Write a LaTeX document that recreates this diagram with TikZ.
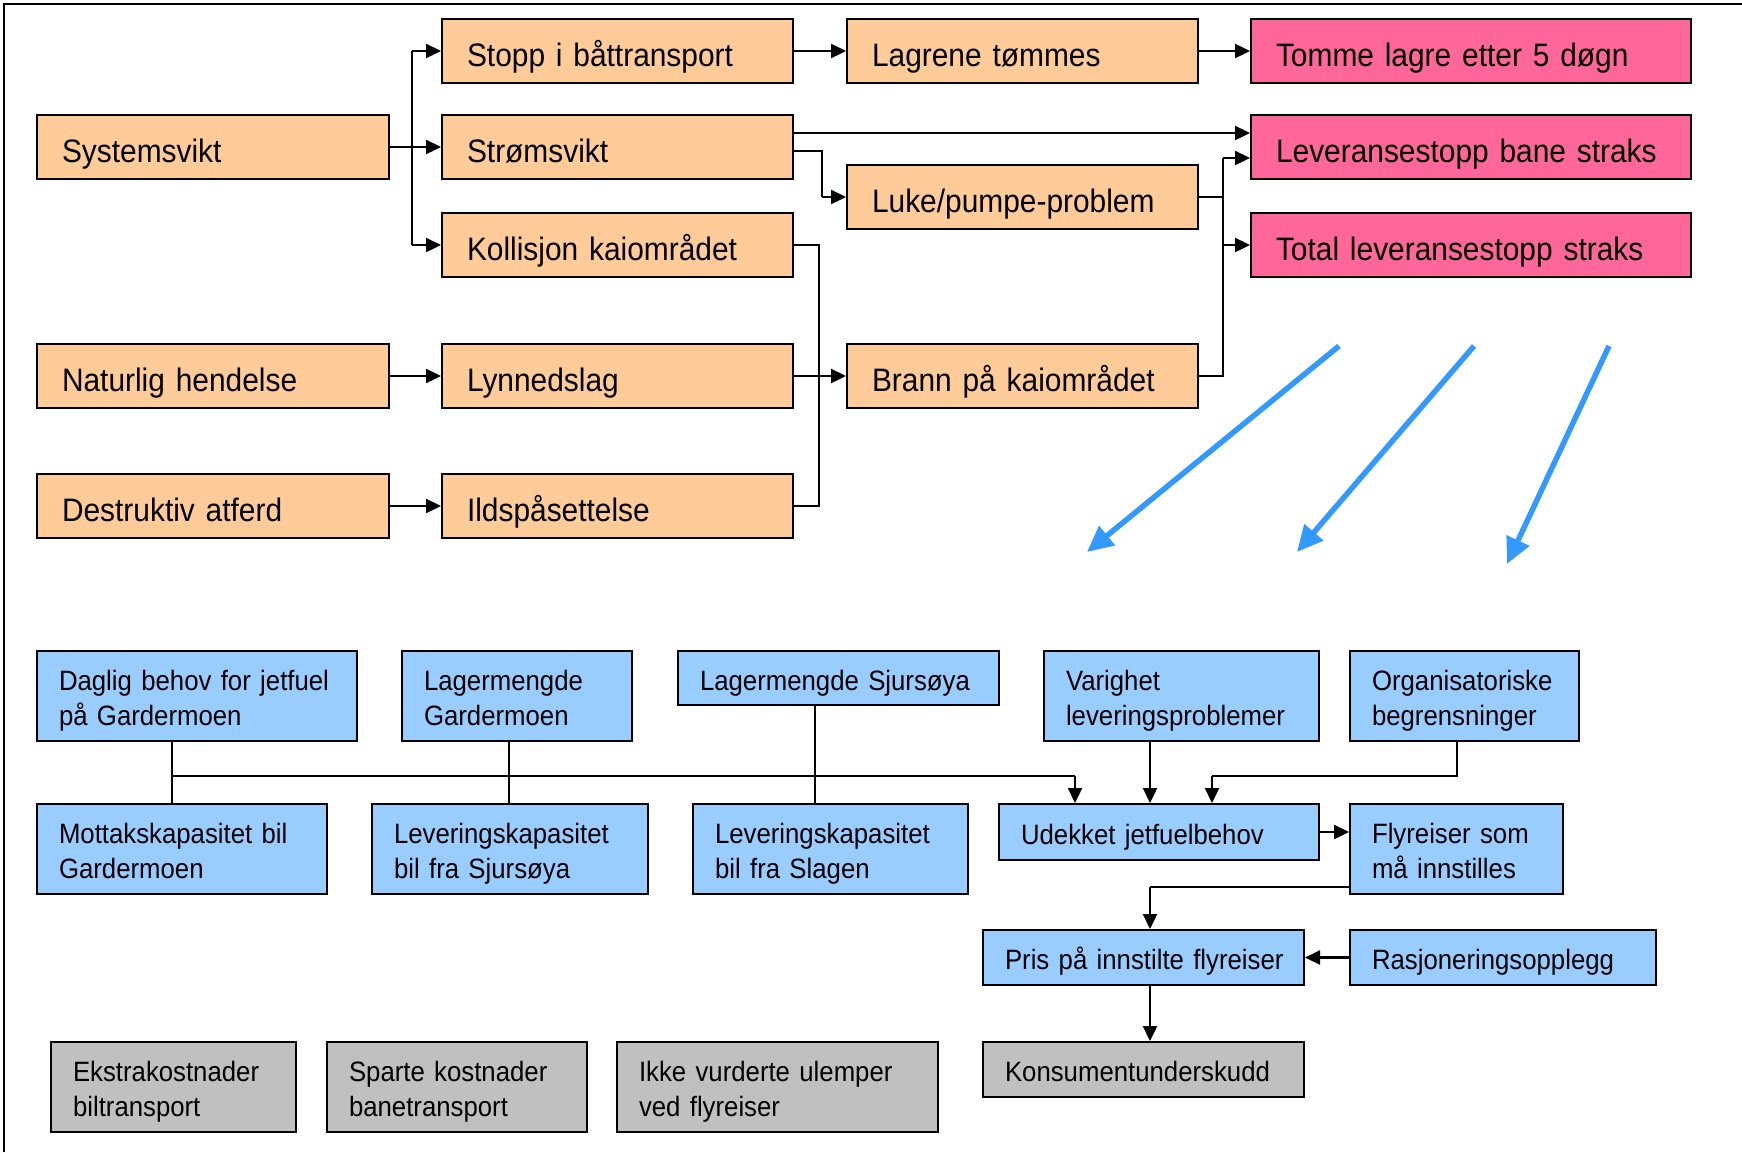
\documentclass[tikz,border=0pt]{standalone}
\usepackage{fontspec}
\setmainfont{Liberation Sans}[FakeStretch=0.92]
\usetikzlibrary{arrows.meta}
\definecolor{orangeF}{HTML}{FFCC99}
\definecolor{pinkF}{HTML}{FF6699}
\definecolor{blueF}{HTML}{99CCFF}
\definecolor{greyF}{HTML}{C0C0C0}
\definecolor{arrowBlue}{HTML}{3399FF}
\newcommand\fontTop{\fontsize{32.5pt}{39pt}\selectfont}
\newcommand\fontBot{\fontsize{28pt}{35pt}\selectfont}
\tikzset{
  basebox/.style={draw=black, line width=2pt, rectangle, inner ysep=0pt, align=left,
    execute at begin node={\hyphenpenalty=10000\exhyphenpenalty=10000}},
  topbox/.style={basebox, font=\fontTop, inner xsep=25pt, text height=30pt, text depth=0pt, minimum height=64pt},
  ob/.style={topbox, fill=orangeF},
  pb/.style={topbox, fill=pinkF},
  tw/.style={minimum width=#1pt, text width=#1pt-50pt},
  botbox/.style={basebox, font=\fontBot, inner xsep=22pt},
  bw/.style={minimum width=#1pt, text width=#1pt-44pt},
  two/.style={text height=23pt, text depth=35pt, minimum height=90pt},
  one/.style={text height=24pt, text depth=0pt, minimum height=#1pt},
  blb/.style={botbox, fill=blueF},
  grb/.style={botbox, fill=greyF},
  arr/.style={line width=2.3pt, -{Triangle[length=15pt,width=14pt]}},
  conn/.style={line width=2.3pt},
  thinconn/.style={line width=1.6pt},
  bigarr/.style={line width=5.5pt, arrowBlue, -{Triangle[length=26pt,width=24pt]}},
}
\begin{document}
\begin{tikzpicture}[x=1pt,y=-1pt]
\useasboundingbox (0,0) rectangle (1742,1152);
% frame
\coordinate (fA) at (4,1152);
\coordinate (fB) at (4,4);
\coordinate (fC) at (1742,4);
\draw[line width=2pt] (fA) -- (fB) -- (fC);

% ---------- top part ----------
\node[ob, tw=352] (sys)   at (213,147)    {Systemsvikt};
\node[ob, tw=351] (stopp) at (617.5,51)   {Stopp i båttransport};
\node[ob, tw=351] (strom) at (617.5,147)  {Strømsvikt};
\node[ob, tw=351] (koll)  at (617.5,245)  {Kollisjon kaiområdet};
\node[ob, tw=352] (nat)   at (213,376)    {Naturlig hendelse};
\node[ob, tw=351] (lyn)   at (617.5,376)  {Lynnedslag};
\node[ob, tw=352] (des)   at (213,506)    {Destruktiv atferd};
\node[ob, tw=351] (ild)   at (617.5,506)  {Ildspåsettelse};
\node[ob, tw=351] (lag)   at (1022.5,51)  {Lagrene tømmes};
\node[ob, tw=351] (luke)  at (1022.5,197) {Luke/pumpe-problem};
\node[ob, tw=351] (brann) at (1022.5,376) {Brann på kaiområdet};
\node[pb, tw=440] (tomme) at (1471,51)    {Tomme lagre etter 5 døgn};
\node[pb, tw=440] (lev)   at (1471,147)   {Leveransestopp bane straks};
\node[pb, tw=440] (tot)   at (1471,245)   {Total leveransestopp straks};

% junction coordinates
\coordinate (jA) at (412,0);
\coordinate (jB) at (822,0);
\coordinate (jC) at (819,0);
\coordinate (jD) at (1223,0);

\draw[conn] (jA |- stopp.west) -- (jA |- koll.west);
\draw[arr] (jA |- stopp.west) -- (stopp.west);
\draw[arr] (sys.east) -- (strom.west);
\draw[arr] (jA |- koll.west) -- (koll.west);
\draw[arr] (nat.east) -- (lyn.west);
\draw[arr] (des.east) -- (ild.west);
\draw[arr] (stopp.east) -- (lag.west);
\draw[arr] (lag.east) -- (tomme.west);
\draw[arr] ([yshift=14pt]strom.east) -- ([yshift=14pt]strom.east -| lev.west);
\draw[conn] ([yshift=-4pt]strom.east) -- ([yshift=-4pt]strom.east -| jB) -- (jB |- luke.west);
\draw[arr] (jB |- luke.west) -- (luke.west);
\draw[thinconn] (koll.east) -- (koll.east -| jC) -- (ild.east -| jC) -- (ild.east);
\draw[thinconn] (lyn.east) -- (lyn.east -| jC);
\draw[arr] (lyn.east -| jC) -- (brann.west);
\draw[thinconn] (luke.east) -- (luke.east -| jD);
\draw[conn] (brann.east) -- (brann.east -| jD) -- ([yshift=-11pt]lev.west -| jD);
\draw[arr] ([yshift=-11pt]lev.west -| jD) -- ([yshift=-11pt]lev.west);
\draw[arr] (tot.west -| jD) -- (tot.west);

% big blue arrows
\coordinate (b1s) at (1339,346); \coordinate (b1e) at (1087,552);
\coordinate (b2s) at (1474,346); \coordinate (b2e) at (1297,552);
\coordinate (b3s) at (1609,346); \coordinate (b3e) at (1507,564);
\draw[bigarr] (b1s) -- (b1e);
\draw[bigarr] (b2s) -- (b2e);
\draw[bigarr] (b3s) -- (b3e);

% ---------- bottom part ----------
\node[blb, bw=320, two] (dag)  at (197,696)    {Daglig~behov~for~jetfuel\\på Gardermoen};
\node[blb, bw=230, two] (lgm)  at (517,696)    {Lagermengde\\Gardermoen};
\node[blb, bw=321, one=54] (lsj) at (838.5,678) {Lagermengde~Sjursøya};
\node[blb, bw=275, two] (var)  at (1181.5,696) {Varighet\\leveringsproblemer};
\node[blb, bw=229, two] (org)  at (1464.5,696) {Organisatoriske\\begrensninger};
\node[blb, bw=290, two] (mot)  at (182,849)    {Mottakskapasitet bil\\Gardermoen};
\node[blb, bw=276, two] (lks)  at (510,849)    {Leveringskapasitet\\bil fra Sjursøya};
\node[blb, bw=275, two] (lksl) at (830.5,849)  {Leveringskapasitet\\bil fra Slagen};
\node[blb, bw=320, one=56] (ude) at (1159,832) {Udekket jetfuelbehov};
\node[blb, bw=213, two] (fly)  at (1456.5,849) {Flyreiser som\\må innstilles};
\node[blb, bw=321, one=55] (pris) at (1143.5,957.5) {Pris~på~innstilte~flyreiser};
\node[blb, bw=306, one=55] (ras) at (1503,957.5) {Rasjoneringsopplegg};
\node[grb, bw=245, two] (eks)  at (173.5,1087) {Ekstrakostnader\\biltransport};
\node[grb, bw=260, two] (spa)  at (457,1087)   {Sparte kostnader\\banetransport};
\node[grb, bw=321, two] (ikk)  at (777.5,1087) {Ikke vurderte ulemper\\ved flyreiser};
\node[grb, bw=321, one=55] (kon) at (1143.5,1069.5) {Konsumentunderskudd};

\coordinate (jE) at (172,776);
\coordinate (jF) at (1075,776);
\coordinate (jG) at (509,0);
\coordinate (jH) at (815,0);
\coordinate (jI) at (1150,0);
\coordinate (jJ) at (1457,776);
\coordinate (jK) at (1212,776);

\draw[thinconn] (jE |- dag.south) -- (jE |- mot.north);
\draw[conn] (jE) -- (jF);
\draw[arr] (jF) -- (jF |- ude.north);
\draw[thinconn] (jG |- lgm.south) -- (jG |- lks.north);
\draw[thinconn] (jH |- lsj.south) -- (jH |- lksl.north);
\draw[arr] (jI |- var.south) -- (jI |- ude.north);
\draw[conn] (jJ |- org.south) -- (jJ) -- (jK);
\draw[arr] (jK) -- (jK |- ude.north);
\draw[arr] (ude.east) -- (ude.east -| fly.west);
\draw[conn] ([yshift=-38pt]fly.west) -- ([yshift=-38pt]fly.west -| jI);
\draw[arr] ([yshift=-38pt]fly.west -| jI) -- (jI |- pris.north);
\draw[arr] (ras.west) -- (pris.east);
\draw[arr] (jI |- pris.south) -- (jI |- kon.north);
\end{tikzpicture}
\end{document}
